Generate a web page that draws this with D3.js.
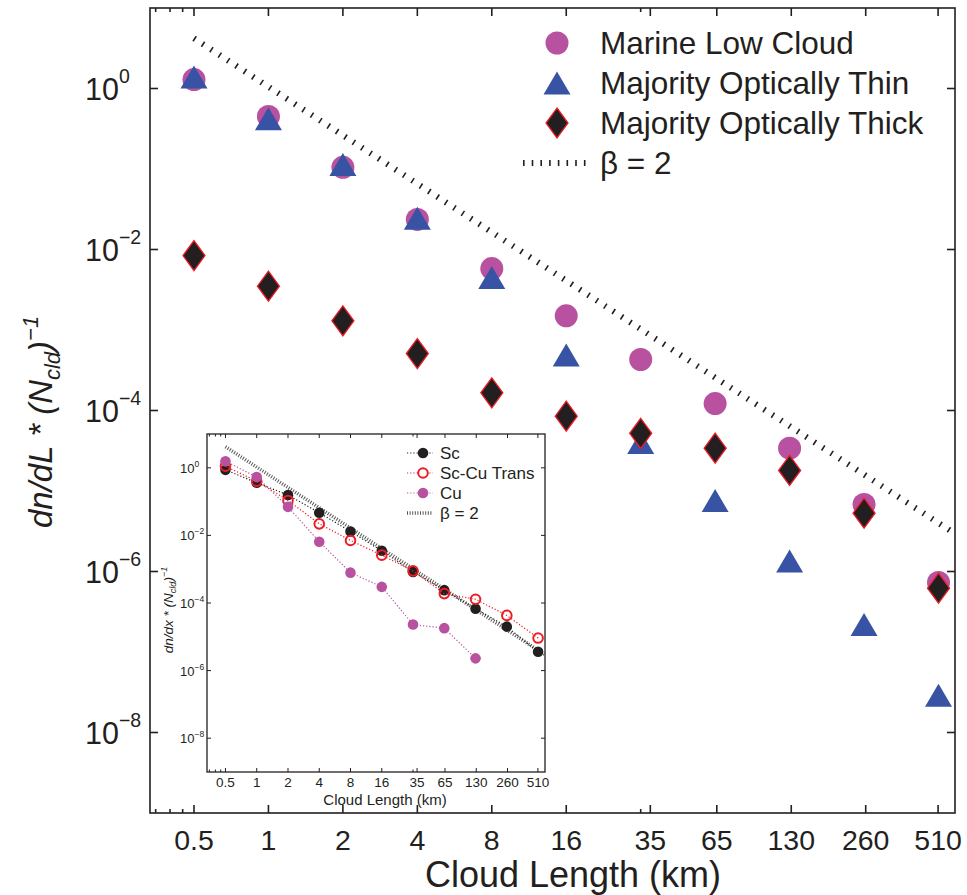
<!DOCTYPE html>
<html><head><meta charset="utf-8">
<script src="https://cdn.jsdelivr.net/npm/d3@7"></script>
<style>
body{margin:0;background:#fff}
svg{display:block}
text{font-family:"Liberation Sans",Arial,Helvetica,sans-serif;fill:#231f20}
</style>
</head><body>
<svg id="chart" width="967" height="895"></svg>
<script>
// ---------------- data ----------------
const lengths = [0.5, 1, 2, 4, 8, 16, 32, 64, 128, 256, 512];
const marineLowCloud = [1.29, 0.45, 0.105, 0.0236, 0.0058, 0.0015, 4.3e-4, 1.22e-4, 3.4e-5, 6.8e-6, 7.3e-7];
const majorityThin   = [1.39, 0.42, 0.114, 0.0244, 0.0045, 4.9e-4, 4.0e-5, 7.6e-6, 1.35e-6, 2.2e-7, 2.9e-8];
const majorityThick  = [0.0084, 0.0035, 0.0013, 5.1e-4, 1.66e-4, 8.5e-5, 5.2e-5, 3.4e-5, 1.8e-5, 5.3e-6, 6.2e-7];

const insetSc        = [0.87, 0.36, 0.156, 0.047, 0.013, 0.0035, 8.3e-4, 2.4e-4, 6.8e-5, 2.0e-5, 3.6e-6];
const insetScCuTrans = [1.12, 0.40, 0.108, 0.022, 0.0071, 0.0026, 8.9e-4, 1.9e-4, 1.29e-4, 4.3e-5, 9.2e-6];
const insetCu        = [1.57, 0.53, 0.07, 0.0065, 7.9e-4, 3.0e-4, 2.3e-5, 1.8e-5, 2.3e-6];

const xTickValues = [0.5, 1, 2, 4, 8, 16, 35, 65, 130, 260, 510];
const xTickLabels = ["0.5", "1", "2", "4", "8", "16", "35", "65", "130", "260", "510"];
const xMinorTicks = [0.35, 0.4, 0.45, 32];
const yTickExponents = [0, -2, -4, -6, -8];
const betaCoef = 1.05;          // reference line: n = betaCoef * L^-beta
const betaExp = 2;
const betaRange = [0.5, 597];

const legendMain = ["Marine Low Cloud", "Majority Optically Thin", "Majority Optically Thick", "β = 2"];
const legendInset = ["Sc", "Sc-Cu Trans", "Cu", "β = 2"];

// ---------------- styles ----------------
const INK = "#231f20";
const MAGENTA = "#b8519f";
const BLUE = "#3953a4";
const RED = "#ed1c24";

const svg = d3.select("#chart");

function makeAxes(g, x, y, opt) {
  const [x0, x1] = x.range(), [y0, y1] = y.range(); // y0 bottom, y1 top
  const tk = g.append("g").attr("stroke", INK).attr("stroke-width", opt.tickW);
  xTickValues.forEach(v => {
    tk.append("line").attr("x1", x(v)).attr("x2", x(v)).attr("y1", y0).attr("y2", y0 - opt.tick);
    tk.append("line").attr("x1", x(v)).attr("x2", x(v)).attr("y1", y1).attr("y2", y1 + opt.tick);
  });
  xMinorTicks.forEach(v => {
    tk.append("line").attr("x1", x(v)).attr("x2", x(v)).attr("y1", y0).attr("y2", y0 - opt.minor);
    tk.append("line").attr("x1", x(v)).attr("x2", x(v)).attr("y1", y1).attr("y2", y1 + opt.minor);
  });
  yTickExponents.forEach(e => {
    const v = Math.pow(10, e);
    tk.append("line").attr("x1", x0).attr("x2", x0 + opt.tick).attr("y1", y(v)).attr("y2", y(v));
    tk.append("line").attr("x1", x1).attr("x2", x1 - opt.tick).attr("y1", y(v)).attr("y2", y(v));
  });
  g.append("rect").attr("x", x0).attr("y", y1).attr("width", x1 - x0).attr("height", y0 - y1)
    .attr("fill", "none").attr("stroke", INK).attr("stroke-width", opt.frameW);
  xTickValues.forEach((v, i) => {
    g.append("text").attr("x", x(v)).attr("y", opt.xLabY).attr("text-anchor", "middle")
      .attr("font-size", opt.tickFs).text(xTickLabels[i]);
  });
  yTickExponents.forEach(e => {
    const t = g.append("text").attr("x", opt.yLabX).attr("y", y(Math.pow(10, e)) + opt.yLabDy)
      .attr("font-size", opt.yFs);
    t.append("tspan").text("10");
    t.append("tspan").attr("dy", -opt.supDy).attr("font-size", opt.supFs)
      .text(e === 0 ? "0" : "\u2212" + Math.abs(e));
  });
}

// ---------------- main chart ----------------
const x = d3.scaleLog().domain([0.332, 597]).range([150, 955]);
const y = d3.scaleLog().domain([1e-9, 10]).range([813, 8]);
const gMain = svg.append("g");

makeAxes(gMain, x, y, {tick: 8, minor: 4, tickW: 1.6, frameW: 1.6, xLabY: 850, tickFs: 28.5,
  yLabX: 85, yLabDy: 11, yFs: 30.5, supDy: 17, supFs: 19.5});

const betaPts = betaRange.map(L => [L, betaCoef * Math.pow(L, -betaExp)]);
const line = d3.line().x(d => x(d[0])).y(d => y(d[1]));
gMain.append("path").attr("d", line(betaPts)).attr("fill", "none").attr("stroke", INK)
  .attr("stroke-width", 6).attr("stroke-dasharray", "1.6 8.4");

const triPath = "M0,-11.5L13.5,11.5L-13.5,11.5Z";
const diaPath = "M0,-15L11,0L0,15L-11,0Z";

gMain.append("g").selectAll("circle").data(lengths.map((L, i) => [L, marineLowCloud[i]])).join("circle")
  .attr("cx", d => x(d[0])).attr("cy", d => y(d[1])).attr("r", 11.5).attr("fill", MAGENTA);
gMain.append("g").selectAll("path").data(lengths.map((L, i) => [L, majorityThin[i]])).join("path")
  .attr("d", triPath).attr("transform", d => `translate(${x(d[0])},${y(d[1])})`).attr("fill", BLUE);
gMain.append("g").selectAll("path").data(lengths.map((L, i) => [L, majorityThick[i]])).join("path")
  .attr("d", diaPath).attr("transform", d => `translate(${x(d[0])},${y(d[1])})`)
  .attr("fill", INK).attr("stroke", RED).attr("stroke-width", 1.3);

// main legend
const lg = gMain.append("g");
const lgY = [43, 83, 123, 163];
lg.append("circle").attr("cx", 557).attr("cy", lgY[0]).attr("r", 11.5).attr("fill", MAGENTA);
lg.append("path").attr("d", triPath).attr("transform", `translate(557,${lgY[1]})`).attr("fill", BLUE);
lg.append("path").attr("d", diaPath).attr("transform", `translate(557,${lgY[2]})`)
  .attr("fill", INK).attr("stroke", RED).attr("stroke-width", 1.3);
lg.append("line").attr("x1", 523).attr("x2", 588).attr("y1", lgY[3]).attr("y2", lgY[3])
  .attr("stroke", INK).attr("stroke-width", 6).attr("stroke-dasharray", "1.6 7.1");
legendMain.forEach((s, i) => {
  lg.append("text").attr("x", 600).attr("y", lgY[i] + 11).attr("font-size", 31.5).text(s);
});

// axis titles
gMain.append("text").attr("x", 573).attr("y", 887).attr("text-anchor", "middle")
  .attr("font-size", 36).text("Cloud Length (km)");
{
  const t = gMain.append("text").attr("transform", "translate(52,528) rotate(-90)")
    .attr("text-anchor", "start").attr("font-size", 33).attr("font-style", "italic");
  t.append("tspan").text("dn/dL * (N");
  t.append("tspan").attr("dy", 8).attr("font-size", 22).text("cld");
  t.append("tspan").attr("dy", -8).text(")");
  t.append("tspan").attr("dy", -14).attr("font-size", 22).text("\u22121");
}

// ---------------- inset ----------------
const ix = d3.scaleLog().domain([0.332, 597]).range([207, 545]);
const iy = d3.scaleLog().domain([1e-9, 10]).range([772, 434]);
const gIn = svg.append("g");
gIn.append("rect").attr("x", 207).attr("y", 434).attr("width", 338).attr("height", 338).attr("fill", "#fff");

makeAxes(gIn, ix, iy, {tick: 4, minor: 2.5, tickW: 1, frameW: 1.3, xLabY: 787, tickFs: 13.5,
  yLabX: 180, yLabDy: 5, yFs: 13, supDy: 6, supFs: 8.5});

const iline = d3.line().x(d => ix(d[0])).y(d => iy(d[1]));
gIn.append("path").attr("d", iline(betaPts)).attr("fill", "none").attr("stroke", "#555")
  .attr("stroke-width", 3.5).attr("stroke-dasharray", "1 1.6");

function insetSeries(vals, color, open) {
  const pts = vals.map((v, i) => [lengths[i], v]);
  gIn.append("path").attr("d", iline(pts)).attr("fill", "none").attr("stroke", color)
    .attr("stroke-width", 1.2).attr("stroke-dasharray", "1.2 2");
  gIn.append("g").selectAll("circle").data(pts).join("circle")
    .attr("cx", d => ix(d[0])).attr("cy", d => iy(d[1]))
    .attr("r", open ? 4.8 : 5.3)
    .attr("fill", open ? "none" : color).attr("stroke", open ? color : "none").attr("stroke-width", 2);
}
insetSeries(insetSc, INK, false);
insetSeries(insetScCuTrans, RED, true);
insetSeries(insetCu, MAGENTA, false);

// inset legend
const ilY = [453, 473, 493, 513];
const ilCol = [INK, RED, MAGENTA, "#555"];
legendInset.forEach((s, i) => {
  gIn.append("line").attr("x1", 407).attr("x2", 433).attr("y1", ilY[i]).attr("y2", ilY[i])
    .attr("stroke", ilCol[i]).attr("stroke-width", i === 3 ? 3.5 : 1.2)
    .attr("stroke-dasharray", i === 3 ? "1 1.6" : "1.2 2");
  if (i < 3) {
    gIn.append("circle").attr("cx", 423).attr("cy", ilY[i]).attr("r", i === 1 ? 4.8 : 5.3)
      .attr("fill", i === 1 ? "#fff" : ilCol[i]).attr("stroke", i === 1 ? RED : "none").attr("stroke-width", 2);
  }
  gIn.append("text").attr("x", 440).attr("y", ilY[i] + 6).attr("font-size", 17).text(s);
});

gIn.append("text").attr("x", 385).attr("y", 805).attr("text-anchor", "middle")
  .attr("font-size", 15).text("Cloud Length (km)");
{
  const t = gIn.append("text").attr("transform", "translate(173,610) rotate(-90)")
    .attr("text-anchor", "middle").attr("font-size", 13.5).attr("font-style", "italic");
  t.append("tspan").text("dn/dx * (N");
  t.append("tspan").attr("dy", 3).attr("font-size", 9).text("cld");
  t.append("tspan").attr("dy", -3).text(")");
  t.append("tspan").attr("dy", -6).attr("font-size", 9).text("\u22121");
}
</script>
</body></html>
